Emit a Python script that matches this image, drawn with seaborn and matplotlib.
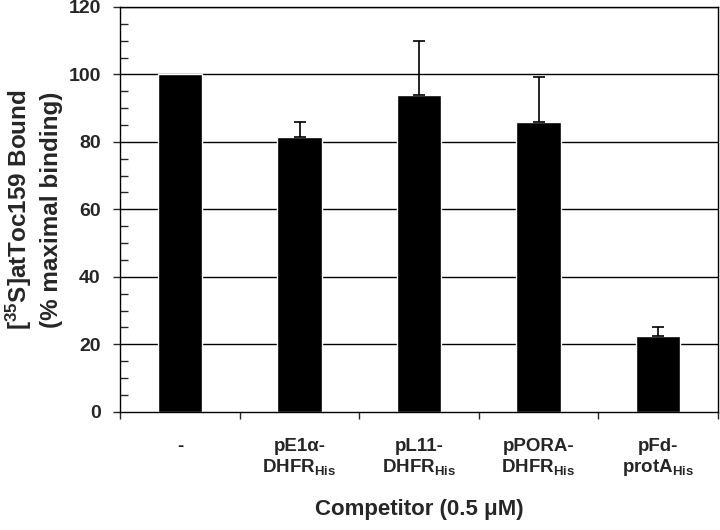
"""
Competitor binding bar chart: [35S]atToc159 bound (% maximal binding)
for several precursor competitors at 0.5 uM.
"""

import numpy as np
import matplotlib

matplotlib.use("Agg")
import matplotlib.pyplot as plt
import seaborn as sns

# Data
competitors = [
    "-",
    "pE1\u03b1-\nDHFR$_{\\mathrm{His}}$",
    "pL11-\nDHFR$_{\\mathrm{His}}$",
    "pPORA-\nDHFR$_{\\mathrm{His}}$",
    "pFd-\nprotA$_{\\mathrm{His}}$",
]
bound_pct = [100.0, 81.5, 94.0, 86.0, 22.5]
err_upper = [0.0, 4.5, 16.0, 13.3, 2.7]
y_ticks = [0, 20, 40, 60, 80, 100, 120]

# Figure settings
FONT = "Liberation Sans"
TICK_FONTSIZE = 14
XTICK_FONTSIZE = 13.5
LABEL_FONTSIZE = 17.5

sns.set_style("white")
plt.rcParams["font.family"] = [FONT, "DejaVu Sans"]
plt.rcParams["font.weight"] = "bold"
plt.rcParams["mathtext.fontset"] = "custom"
plt.rcParams["mathtext.rm"] = f"{FONT}:bold"
plt.rcParams["mathtext.bf"] = f"{FONT}:bold"
plt.rcParams["mathtext.it"] = f"{FONT}:bold"


def main():
    fig = plt.figure(figsize=(7.2, 5.3), dpi=100)
    ax = fig.add_axes([0.167, 0.223, 0.830, 0.764])

    x = np.arange(len(competitors))

    # horizontal gridlines behind the bars
    for yv in y_ticks[1:]:
        ax.axhline(yv, color="black", lw=1.0, zorder=0)

    sns.barplot(
        x=x, y=bound_pct, color="black", width=0.37, errorbar=None,
        saturation=1, ax=ax, zorder=2,
    )

    # upper-only error bars (skip the uncompeted control)
    has_err = np.array(err_upper) > 0
    xe = x[has_err]
    ye = np.array(bound_pct)[has_err]
    ee = np.array(err_upper)[has_err]
    ax.errorbar(
        xe, ye, yerr=[np.zeros(len(xe)), ee], fmt="none",
        ecolor="black", elinewidth=1.2, capsize=4, capthick=1.2, zorder=3,
    )

    ax.set_xlim(-0.5, len(competitors) - 0.5)
    ax.set_ylim(0, 120)

    # y axis: major ticks out, minor ticks in
    ax.set_yticks(y_ticks)
    ax.set_yticks(np.arange(0, 121, 5), minor=True)
    ax.tick_params(axis="y", which="major", direction="out", length=5,
                   width=1, labelsize=TICK_FONTSIZE, pad=9, left=True)
    ax.tick_params(axis="y", which="minor", direction="in", length=6,
                   width=1, left=True)

    # x axis: tick marks at category boundaries, labels at centres
    ax.set_xticks(np.arange(-0.5, len(competitors), 1.0))
    ax.set_xticklabels([])
    ax.set_xticks(x, minor=True)
    ax.set_xticklabels(competitors, minor=True, fontsize=XTICK_FONTSIZE,
                       fontweight="bold", linespacing=1.15)
    ax.tick_params(axis="x", which="major", direction="out", length=5,
                   width=1, bottom=True)
    ax.tick_params(axis="x", which="minor", length=0, pad=19)
    for lbl in ax.get_xticklabels(minor=True):
        lbl.set_verticalalignment("top")

    for spine in ax.spines.values():
        spine.set_visible(True)
        spine.set_color("black")
        spine.set_linewidth(1.0)

    ax.set_xlabel("Competitor (0.5 \u03bcM)", fontsize=16, fontweight="bold",
                  labelpad=15)
    ax.set_ylabel("[$^{35}$S]atToc159 Bound\n(% maximal binding)",
                  fontsize=LABEL_FONTSIZE, fontweight="bold", labelpad=4,
                  linespacing=1.3)

    plt.savefig("out.png", dpi=100)
    plt.close()


if __name__ == "__main__":
    main()
